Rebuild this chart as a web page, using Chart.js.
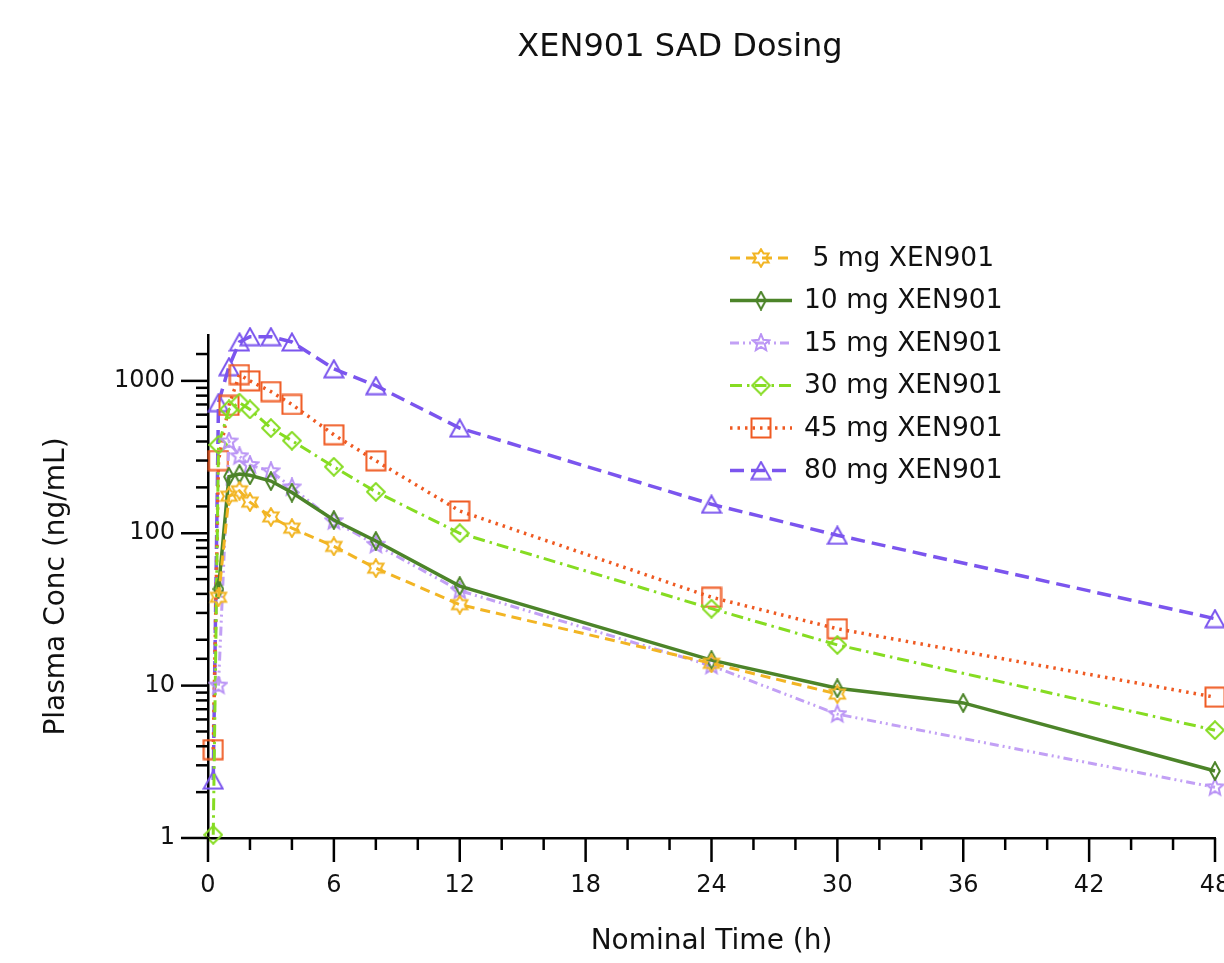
<!DOCTYPE html>
<html>
<head>
<meta charset="utf-8">
<title>XEN901 SAD Dosing</title>
<script src="https://cdn.jsdelivr.net/npm/chart.js@4.4.1/dist/chart.umd.min.js"></script>
<style>
  html, body { margin: 0; padding: 0; background: #fff; }
  #wrap { width: 1224px; height: 963px; }
</style>
</head>
<body>
<div id="wrap"><canvas id="pkChart" width="1224" height="963"></canvas></div>
<script>
// nominal sampling times (h)
const times = [0.25, 0.5, 1, 1.5, 2, 3, 4, 6, 8, 12, 24, 30, 36, 48];

const doseLabels = [" 5 mg XEN901", "10 mg XEN901", "15 mg XEN901", "30 mg XEN901", "45 mg XEN901", "80 mg XEN901"];

// mean plasma conc (ng/mL); null = no sample
const conc5mg  = [null, 38, 175, 190, 160, 128, 108, 82, 59, 34, 14, 8.8, null, null];
const conc10mg = [null, 43, 235, 245, 240, 220, 185, 122, 89, 45, 14.7, 9.6, 7.7, 2.75];
const conc15mg = [null, 10, 400, 320, 280, 255, 200, 120, 84, 42, 13.5, 6.5, null, 2.15];
const conc30mg = [1.05, 380, 650, 720, 650, 490, 405, 273, 187, 100, 32, 18.5, null, 5.1];
const conc45mg = [3.8, 300, 690, 1100, 1000, 850, 700, 443, 299, 140, 38, 23.6, null, 8.4];
const conc80mg = [2.4, 720, 1240, 1800, 1950, 1950, 1800, 1200, 930, 490, 155, 97, null, 27.5];

const yTickLabels = [1, 10, 100, 1000];
const xTickLabels = [0, 6, 12, 18, 24, 30, 36, 42, 48];

const FONT = "'DejaVu Sans', Verdana, sans-serif";

// hollow marker images
function marker(shape, color, w, h) {
    const c = document.createElement("canvas");
    c.width = w; c.height = h;
    const g = c.getContext("2d");
    g.strokeStyle = color;
    g.lineWidth = 2;
    const cx = w / 2, cy = h / 2;
    g.beginPath();
    if (shape === "triangle") {
        g.moveTo(cx, 1.5);
        g.lineTo(w - 1.5, h - 1.5);
        g.lineTo(1.5, h - 1.5);
        g.closePath();
    } else if (shape === "square") {
        g.rect(1.5, 1.5, w - 3, h - 3);
    } else if (shape === "diamond") {
        g.moveTo(cx, 1.2);
        g.lineTo(w - 1.2, cy);
        g.lineTo(cx, h - 1.2);
        g.lineTo(1.2, cy);
        g.closePath();
    } else {
        // star, n points
        const n = shape === "star6" ? 6 : 5;
        const ro = Math.min(w, h) / 2 - 1.2;
        const ri = ro * (n === 6 ? 0.58 : 0.45);
        for (let i = 0; i < n * 2; i++) {
            const a = -Math.PI / 2 + i * Math.PI / n;
            const r = i % 2 ? ri : ro;
            const px = cx + r * Math.cos(a), py = cy + r * Math.sin(a);
            if (i === 0) g.moveTo(px, py); else g.lineTo(px, py);
        }
        g.closePath();
    }
    g.stroke();
    return c;
}

function series(values) {
    return times.map((t, i) => ({ x: t, y: values[i] }));
}

const datasets = [
    { label: doseLabels[0], data: series(conc5mg),  borderColor: "#f2b524", borderWidth: 3, borderDash: [10, 6],
      pointStyle: marker("star6", "#f2b524", 20, 20) },
    { label: doseLabels[1], data: series(conc10mg), borderColor: "#4c8429", borderWidth: 3.5, borderDash: [],
      pointStyle: marker("diamond", "#4c8429", 12, 20) },
    { label: doseLabels[2], data: series(conc15mg), borderColor: "#c2a0f5", borderWidth: 3, borderDash: [9, 4, 2, 4, 2, 4],
      pointStyle: marker("star5", "#b993f5", 20, 20) },
    { label: doseLabels[3], data: series(conc30mg), borderColor: "#86dc22", borderWidth: 3, borderDash: [12, 5, 2.5, 5],
      pointStyle: marker("diamond", "#86dc22", 20, 20) },
    { label: doseLabels[4], data: series(conc45mg), borderColor: "#ef5a22", borderWidth: 3.5, borderDash: [2.5, 5],
      pointStyle: marker("square", "#ef5a22", 22, 22) },
    { label: doseLabels[5], data: series(conc80mg), borderColor: "#7b55ee", borderWidth: 3.5, borderDash: [14, 7],
      pointStyle: marker("triangle", "#7b55ee", 22, 20) }
].map(d => Object.assign(d, { fill: false, tension: 0, spanGaps: true, pointRadius: 10, clip: false }));

// tick marks drawn outward, long at labelled ticks
const tickMarks = {
    id: "tickMarks",
    afterDraw(chart) {
        const ctx = chart.ctx, a = chart.chartArea;
        const xs = chart.scales.x, ys = chart.scales.y;
        ctx.save();
        ctx.strokeStyle = "#000";
        ctx.lineWidth = 2.5;
        ys.ticks.forEach(t => {
            if (t.value >= ys.max) return;
            const y = ys.getPixelForValue(t.value);
            const len = yTickLabels.includes(t.value) ? 27 : 12;
            ctx.beginPath();
            ctx.moveTo(a.left - len, y);
            ctx.lineTo(a.left, y);
            ctx.stroke();
        });
        xs.ticks.forEach(t => {
            const x = xs.getPixelForValue(t.value);
            const len = xTickLabels.includes(t.value) ? 24 : 12;
            ctx.beginPath();
            ctx.moveTo(x, a.bottom);
            ctx.lineTo(x, a.bottom + len);
            ctx.stroke();
        });
        ctx.restore();
    }
};

// title + legend box inside the plot, as in the source figure
const overlay = {
    id: "overlay",
    afterDraw(chart) {
        const ctx = chart.ctx;
        ctx.save();
        ctx.fillStyle = "#111";
        ctx.font = "32px " + FONT;
        ctx.textAlign = "center";
        ctx.textBaseline = "middle";
        ctx.fillText("XEN901 SAD Dosing", 680, 48);

        ctx.font = "26.5px " + FONT;
        ctx.textAlign = "left";
        chart.data.datasets.forEach((ds, i) => {
            const y = 258 + i * 42.5;
            ctx.strokeStyle = ds.borderColor;
            ctx.lineWidth = ds.borderWidth;
            ctx.setLineDash(ds.borderDash);
            ctx.beginPath();
            ctx.moveTo(730, y);
            ctx.lineTo(792, y);
            ctx.stroke();
            ctx.setLineDash([]);
            const img = ds.pointStyle;
            ctx.drawImage(img, 761 - img.width / 2, y - img.height / 2);
            ctx.fillStyle = "#111";
            ctx.fillText(ds.label, 804, y + 1);
        });
        ctx.restore();
    }
};

new Chart(document.getElementById("pkChart"), {
    type: "line",
    data: { datasets },
    plugins: [tickMarks, overlay],
    options: {
        responsive: false,
        animation: false,
        devicePixelRatio: 1,
        layout: { autoPadding: false, padding: { top: 335, right: 9, bottom: 0, left: 0 } },
        plugins: {
            legend: { display: false },
            title: { display: false },
            tooltip: { enabled: false }
        },
        scales: {
            x: {
                type: "linear",
                min: 0,
                max: 48,
                afterFit: s => { s.height = 125; s.paddingLeft = 0; s.paddingRight = 0; },
                grid: { display: false, drawTicks: false },
                border: { display: true, color: "#000", width: 2.5 },
                ticks: {
                    stepSize: 2,
                    autoSkip: false,
                    maxRotation: 0,
                    padding: 33,
                    color: "#111",
                    font: { size: 24, family: FONT },
                    callback: v => xTickLabels.includes(v) ? String(v) : ""
                },
                title: {
                    display: true,
                    text: "Nominal Time (h)",
                    color: "#111",
                    font: { size: 28, family: FONT },
                    padding: { top: 0, bottom: 4 }
                }
            },
            y: {
                type: "logarithmic",
                min: 1,
                max: 2000,
                afterFit: s => { s.width = 208; s.paddingTop = 0; s.paddingBottom = 0; },
                grid: { display: false, drawTicks: false },
                border: { display: true, color: "#000", width: 2.5 },
                ticks: {
                    autoSkip: false,
                    padding: 33,
                    color: "#111",
                    font: { size: 24, family: FONT },
                    callback: v => yTickLabels.includes(v) ? String(v) : ""
                },
                title: {
                    display: true,
                    text: "Plasma Conc (ng/mL)",
                    color: "#111",
                    font: { size: 28, family: FONT },
                    padding: { top: 40, bottom: 0 }
                }
            }
        }
    }
});
</script>
</body>
</html>
